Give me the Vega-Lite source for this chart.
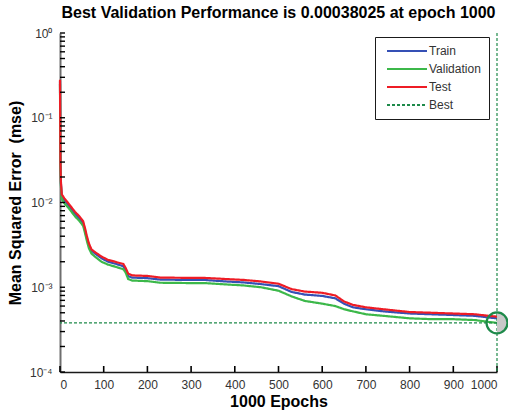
{
  "$schema": "https://vega.github.io/schema/vega-lite/v6.json",
  "autosize": "none",
  "width": 437,
  "height": 339,
  "padding": {"left": 60, "top": 33, "right": 11, "bottom": 41},
  "background": "white",
  "config": {
    "font": "Liberation Sans",
    "view": {"stroke": null},
    "axis": {
      "labelFont": "Liberation Sans",
      "labelFontSize": 12,
      "labelColor": "#333333",
      "titleFont": "Liberation Sans",
      "titleFontSize": 16,
      "titleFontWeight": "bold",
      "titleColor": "#000000",
      "grid": false,
      "ticks": false,
      "labelOverlap": false
    }
  },
  "title": {
    "text": "Best Validation Performance is 0.00038025 at epoch 1000",
    "font": "Liberation Sans",
    "fontSize": 16,
    "fontWeight": "bold",
    "color": "#000000",
    "anchor": "middle",
    "offset": 6
  },
  "datasets": {
    "curves": [
      {"epoch": 0, "series": "Train", "mse": 0.27},
      {"epoch": 1, "series": "Train", "mse": 0.028},
      {"epoch": 2, "series": "Train", "mse": 0.017},
      {"epoch": 4, "series": "Train", "mse": 0.012},
      {"epoch": 10, "series": "Train", "mse": 0.0106},
      {"epoch": 19, "series": "Train", "mse": 0.0093},
      {"epoch": 34, "series": "Train", "mse": 0.0074},
      {"epoch": 45, "series": "Train", "mse": 0.0064},
      {"epoch": 53, "series": "Train", "mse": 0.0057},
      {"epoch": 58, "series": "Train", "mse": 0.0045},
      {"epoch": 61, "series": "Train", "mse": 0.0039},
      {"epoch": 66, "series": "Train", "mse": 0.0031},
      {"epoch": 72, "series": "Train", "mse": 0.0027},
      {"epoch": 80, "series": "Train", "mse": 0.0025},
      {"epoch": 95, "series": "Train", "mse": 0.0022},
      {"epoch": 110, "series": "Train", "mse": 0.002},
      {"epoch": 126, "series": "Train", "mse": 0.0019},
      {"epoch": 145, "series": "Train", "mse": 0.00177},
      {"epoch": 150, "series": "Train", "mse": 0.0016},
      {"epoch": 156, "series": "Train", "mse": 0.00135},
      {"epoch": 165, "series": "Train", "mse": 0.0013},
      {"epoch": 200, "series": "Train", "mse": 0.00128},
      {"epoch": 230, "series": "Train", "mse": 0.00123},
      {"epoch": 300, "series": "Train", "mse": 0.00122},
      {"epoch": 330, "series": "Train", "mse": 0.00122},
      {"epoch": 380, "series": "Train", "mse": 0.00117},
      {"epoch": 420, "series": "Train", "mse": 0.00114},
      {"epoch": 460, "series": "Train", "mse": 0.00109},
      {"epoch": 500, "series": "Train", "mse": 0.00103},
      {"epoch": 530, "series": "Train", "mse": 0.00088},
      {"epoch": 560, "series": "Train", "mse": 0.00082},
      {"epoch": 600, "series": "Train", "mse": 0.00079},
      {"epoch": 630, "series": "Train", "mse": 0.00074},
      {"epoch": 650, "series": "Train", "mse": 0.00064},
      {"epoch": 670, "series": "Train", "mse": 0.00058},
      {"epoch": 700, "series": "Train", "mse": 0.00055},
      {"epoch": 740, "series": "Train", "mse": 0.00052},
      {"epoch": 800, "series": "Train", "mse": 0.00049},
      {"epoch": 850, "series": "Train", "mse": 0.00048},
      {"epoch": 900, "series": "Train", "mse": 0.00047},
      {"epoch": 950, "series": "Train", "mse": 0.00046},
      {"epoch": 980, "series": "Train", "mse": 0.00044},
      {"epoch": 1000, "series": "Train", "mse": 0.00043},

      {"epoch": 0, "series": "Validation", "mse": 0.25},
      {"epoch": 1, "series": "Validation", "mse": 0.025},
      {"epoch": 2, "series": "Validation", "mse": 0.016},
      {"epoch": 4, "series": "Validation", "mse": 0.011},
      {"epoch": 10, "series": "Validation", "mse": 0.0098},
      {"epoch": 19, "series": "Validation", "mse": 0.0087},
      {"epoch": 34, "series": "Validation", "mse": 0.0069},
      {"epoch": 45, "series": "Validation", "mse": 0.006},
      {"epoch": 53, "series": "Validation", "mse": 0.0053},
      {"epoch": 58, "series": "Validation", "mse": 0.0042},
      {"epoch": 61, "series": "Validation", "mse": 0.0036},
      {"epoch": 66, "series": "Validation", "mse": 0.0029},
      {"epoch": 72, "series": "Validation", "mse": 0.0025},
      {"epoch": 80, "series": "Validation", "mse": 0.0023},
      {"epoch": 95, "series": "Validation", "mse": 0.002},
      {"epoch": 110, "series": "Validation", "mse": 0.00185},
      {"epoch": 126, "series": "Validation", "mse": 0.00175},
      {"epoch": 145, "series": "Validation", "mse": 0.00163},
      {"epoch": 150, "series": "Validation", "mse": 0.0015},
      {"epoch": 156, "series": "Validation", "mse": 0.00125},
      {"epoch": 165, "series": "Validation", "mse": 0.0012},
      {"epoch": 200, "series": "Validation", "mse": 0.00118},
      {"epoch": 230, "series": "Validation", "mse": 0.00113},
      {"epoch": 300, "series": "Validation", "mse": 0.00112},
      {"epoch": 330, "series": "Validation", "mse": 0.00112},
      {"epoch": 380, "series": "Validation", "mse": 0.00108},
      {"epoch": 420, "series": "Validation", "mse": 0.00105},
      {"epoch": 460, "series": "Validation", "mse": 0.001},
      {"epoch": 500, "series": "Validation", "mse": 0.00091},
      {"epoch": 530, "series": "Validation", "mse": 0.00078},
      {"epoch": 560, "series": "Validation", "mse": 0.00069},
      {"epoch": 600, "series": "Validation", "mse": 0.00064},
      {"epoch": 630, "series": "Validation", "mse": 0.0006},
      {"epoch": 650, "series": "Validation", "mse": 0.00055},
      {"epoch": 670, "series": "Validation", "mse": 0.00052},
      {"epoch": 700, "series": "Validation", "mse": 0.00048},
      {"epoch": 740, "series": "Validation", "mse": 0.00046},
      {"epoch": 800, "series": "Validation", "mse": 0.00043},
      {"epoch": 850, "series": "Validation", "mse": 0.00042},
      {"epoch": 900, "series": "Validation", "mse": 0.00042},
      {"epoch": 950, "series": "Validation", "mse": 0.00041},
      {"epoch": 980, "series": "Validation", "mse": 0.00039},
      {"epoch": 1000, "series": "Validation", "mse": 0.00038025},

      {"epoch": 0, "series": "Test", "mse": 0.28},
      {"epoch": 1, "series": "Test", "mse": 0.03},
      {"epoch": 2, "series": "Test", "mse": 0.018},
      {"epoch": 4, "series": "Test", "mse": 0.0125},
      {"epoch": 10, "series": "Test", "mse": 0.0112},
      {"epoch": 19, "series": "Test", "mse": 0.0098},
      {"epoch": 34, "series": "Test", "mse": 0.0078},
      {"epoch": 45, "series": "Test", "mse": 0.0068},
      {"epoch": 53, "series": "Test", "mse": 0.006},
      {"epoch": 58, "series": "Test", "mse": 0.0048},
      {"epoch": 61, "series": "Test", "mse": 0.0041},
      {"epoch": 66, "series": "Test", "mse": 0.0033},
      {"epoch": 72, "series": "Test", "mse": 0.0028},
      {"epoch": 80, "series": "Test", "mse": 0.0026},
      {"epoch": 95, "series": "Test", "mse": 0.0023},
      {"epoch": 110, "series": "Test", "mse": 0.0021},
      {"epoch": 126, "series": "Test", "mse": 0.002},
      {"epoch": 145, "series": "Test", "mse": 0.00188},
      {"epoch": 150, "series": "Test", "mse": 0.0017},
      {"epoch": 156, "series": "Test", "mse": 0.00145},
      {"epoch": 165, "series": "Test", "mse": 0.00138},
      {"epoch": 200, "series": "Test", "mse": 0.00136},
      {"epoch": 230, "series": "Test", "mse": 0.0013},
      {"epoch": 300, "series": "Test", "mse": 0.00129},
      {"epoch": 330, "series": "Test", "mse": 0.00129},
      {"epoch": 380, "series": "Test", "mse": 0.00125},
      {"epoch": 420, "series": "Test", "mse": 0.00122},
      {"epoch": 460, "series": "Test", "mse": 0.00117},
      {"epoch": 500, "series": "Test", "mse": 0.0011},
      {"epoch": 530, "series": "Test", "mse": 0.00095},
      {"epoch": 560, "series": "Test", "mse": 0.00089},
      {"epoch": 600, "series": "Test", "mse": 0.00086},
      {"epoch": 630, "series": "Test", "mse": 0.0008},
      {"epoch": 650, "series": "Test", "mse": 0.00068},
      {"epoch": 670, "series": "Test", "mse": 0.00062},
      {"epoch": 700, "series": "Test", "mse": 0.00058},
      {"epoch": 740, "series": "Test", "mse": 0.00055},
      {"epoch": 800, "series": "Test", "mse": 0.00051},
      {"epoch": 850, "series": "Test", "mse": 0.0005},
      {"epoch": 900, "series": "Test", "mse": 0.00049},
      {"epoch": 950, "series": "Test", "mse": 0.00048},
      {"epoch": 980, "series": "Test", "mse": 0.00046},
      {"epoch": 1000, "series": "Test", "mse": 0.00045}
    ],
    "best": [
      {"epoch": 1000, "series": "Best", "mse": 0.00038025}
    ],
    "xticks": [
      {"epoch": 0}, {"epoch": 100}, {"epoch": 200}, {"epoch": 300}, {"epoch": 400}, {"epoch": 500},
      {"epoch": 600}, {"epoch": 700}, {"epoch": 800}, {"epoch": 900}, {"epoch": 1000}
    ],
    "yticks": [
      {"mse": 0.0001}, {"mse": 0.0002}, {"mse": 0.0003}, {"mse": 0.0004}, {"mse": 0.0005}, {"mse": 0.0006}, {"mse": 0.0007}, {"mse": 0.0008}, {"mse": 0.0009},
      {"mse": 0.001}, {"mse": 0.002}, {"mse": 0.003}, {"mse": 0.004}, {"mse": 0.005}, {"mse": 0.006}, {"mse": 0.007}, {"mse": 0.008}, {"mse": 0.009},
      {"mse": 0.01}, {"mse": 0.02}, {"mse": 0.03}, {"mse": 0.04}, {"mse": 0.05}, {"mse": 0.06}, {"mse": 0.07}, {"mse": 0.08}, {"mse": 0.09},
      {"mse": 0.1}, {"mse": 0.2}, {"mse": 0.3}, {"mse": 0.4}, {"mse": 0.5}, {"mse": 0.6}, {"mse": 0.7}, {"mse": 0.8}, {"mse": 0.9},
      {"mse": 1}
    ]
  },
  "layer": [
    {
      "data": {"name": "curves"},
      "mark": {"type": "line", "strokeWidth": 2.2, "strokeJoin": "miter"},
      "encoding": {
        "x": {
          "field": "epoch",
          "type": "quantitative",
          "scale": {"domain": [0, 1000], "nice": false},
          "axis": {
            "title": "1000 Epochs",
            "format": "d",
            "values": [0, 100, 200, 300, 400, 500, 600, 700, 800, 900, 1000],
            "labelPadding": 7,
            "titlePadding": 3,
            "domainColor": "#1a1a1a",
            "domainWidth": 1.5
          }
        },
        "y": {
          "field": "mse",
          "type": "quantitative",
          "scale": {"type": "log", "domain": [0.0001, 1], "nice": false},
          "axis": {
            "title": "Mean Squared Error\u00a0 (mse)",
            "values": [0.0001, 0.001, 0.01, 0.1, 1],
            "labelExpr": "round(log(datum.value)/LN10) == 0 ? '10⁰' : round(log(datum.value)/LN10) == -1 ? '10⁻¹' : round(log(datum.value)/LN10) == -2 ? '10⁻²' : round(log(datum.value)/LN10) == -3 ? '10⁻³' : '10⁻⁴'",
            "labelPadding": 8,
            "titlePadding": 6,
            "domainColor": "#6e6e6e",
            "domainWidth": 2
          }
        },
        "color": {
          "field": "series",
          "type": "nominal",
          "scale": {
            "domain": ["Train", "Validation", "Test", "Best"],
            "range": ["#3550b5", "#3cb84a", "#ee1c25", "#1e8a4a"]
          },
          "legend": {
            "title": null,
            "orient": "none",
            "legendX": 315,
            "legendY": 4,
            "symbolType": "M-1,0H19",
            "symbolSize": 16,
            "symbolStrokeWidth": 2.2,
            "labelFontSize": 12,
            "labelColor": "#333333",
            "strokeColor": "#1a1a1a",
            "fillColor": "white",
            "padding": 8,
            "rowPadding": 6,
            "labelOffset": 34
          }
        },
        "strokeDash": {
          "field": "series",
          "type": "nominal",
          "scale": {
            "domain": ["Train", "Validation", "Test", "Best"],
            "range": [[1, 0], [1, 0], [1, 0], [3, 2]]
          },
          "legend": null
        },
        "order": {"field": "epoch", "type": "quantitative"},
        "detail": {"field": "series"}
      }
    },
    {
      "data": {"name": "xticks"},
      "mark": {"type": "tick", "orient": "vertical", "size": 6, "thickness": 1.6, "color": "#000000", "opacity": 1, "yOffset": -3},
      "encoding": {
        "x": {"field": "epoch", "type": "quantitative"},
        "y": {"datum": 0.0001, "type": "quantitative"}
      }
    },
    {
      "data": {"name": "yticks"},
      "mark": {"type": "tick", "orient": "horizontal", "size": 5, "thickness": 1.4, "color": "#000000", "opacity": 1, "xOffset": 2.5},
      "encoding": {
        "x": {"datum": 0, "type": "quantitative"},
        "y": {"field": "mse", "type": "quantitative"}
      }
    },
    {
      "data": {"name": "best"},
      "mark": {"type": "rule", "strokeWidth": 1.2, "strokeDash": [3, 2]},
      "encoding": {
        "y": {"field": "mse", "type": "quantitative"},
        "color": {"field": "series", "type": "nominal"}
      }
    },
    {
      "data": {"name": "best"},
      "mark": {"type": "rule", "strokeWidth": 1.2, "strokeDash": [3, 2]},
      "encoding": {
        "x": {"field": "epoch", "type": "quantitative"},
        "color": {"field": "series", "type": "nominal"}
      }
    },
    {
      "data": {"name": "best"},
      "mark": {"type": "point", "shape": "M0,-1A1,1,0,0,1,0,1Z", "filled": true, "size": 441, "color": "#c8c8c8", "opacity": 1},
      "encoding": {
        "x": {"field": "epoch", "type": "quantitative"},
        "y": {"field": "mse", "type": "quantitative"}
      }
    },
    {
      "data": {"name": "best"},
      "mark": {"type": "point", "shape": "circle", "filled": false, "size": 441, "strokeWidth": 2.2, "color": "#1e8a4a", "opacity": 1},
      "encoding": {
        "x": {"field": "epoch", "type": "quantitative"},
        "y": {"field": "mse", "type": "quantitative"}
      }
    }
  ]
}
